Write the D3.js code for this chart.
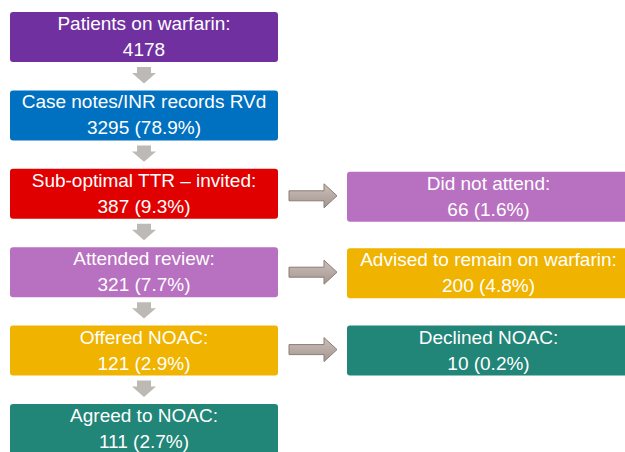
<!DOCTYPE html>
<html><head><meta charset="utf-8">
<script src="https://cdn.jsdelivr.net/npm/d3@7"></script>
<style>html,body{margin:0;padding:0;background:#fff;overflow:hidden}</style>
</head><body>
<script>
// ---- data ----
const mainLabels = ["Patients on warfarin:", "Case notes/INR records RVd", "Sub-optimal TTR \u2013 invited:", "Attended review:", "Offered NOAC:", "Agreed to NOAC:"];
const mainCounts = [4178, 3295, 387, 321, 121, 111];
const mainPercents = [null, 78.9, 9.3, 7.7, 2.9, 2.7];
const sideLabels = ["Did not attend:", "Advised to remain on warfarin:", "Declined NOAC:"];
const sideCounts = [66, 200, 10];
const sidePercents = [1.6, 4.8, 0.2];
const sideRows = [2, 3, 4];

// ---- styles ----
const mainColors = ["#7030A0", "#0070C0", "#E00000", "#B870C0", "#EFB300", "#218577"];
const sideColors = ["#B870C0", "#EFB300", "#218577"];

const W = 625, H = 452;
const svg = d3.select("body").append("svg").attr("width", W).attr("height", H);
const defs = svg.append("defs");
const grad = defs.append("linearGradient").attr("id", "ag").attr("x1", 0).attr("y1", 0).attr("x2", 0).attr("y2", 1);
grad.append("stop").attr("offset", "0%").attr("stop-color", "#CDBFBA");
grad.append("stop").attr("offset", "100%").attr("stop-color", "#A39590");

const y = d3.scaleLinear().domain([0, 5]).range([12, 404]);
const boxH = 50;
const xMain = d3.scaleLinear().domain([0, 1]).range([10, 278]);
const xSide = d3.scaleLinear().domain([0, 1]).range([347, 630]);
const fontFam = "'Liberation Sans', Arial, sans-serif";
const fs = 19;

function label(c, p) { return p == null ? String(c) : `${c} (${p.toFixed(1)}%)`; }

// main boxes
const main = svg.selectAll("g.main").data(mainLabels.map((l, i) => ({l, c: mainCounts[i], p: mainPercents[i], i})))
  .join("g").attr("class", "main");
main.append("rect")
  .attr("x", xMain(0)).attr("y", d => y(d.i)).attr("width", xMain(1) - xMain(0)).attr("height", boxH)
  .attr("rx", 3).attr("fill", d => mainColors[d.i]);
main.append("text").attr("x", (xMain(0) + xMain(1)) / 2).attr("y", d => y(d.i) + 18)
  .attr("text-anchor", "middle").attr("fill", "#fff").attr("font-family", fontFam).attr("font-size", fs)
  .text(d => d.l);
main.append("text").attr("x", (xMain(0) + xMain(1)) / 2).attr("y", d => y(d.i) + 44)
  .attr("text-anchor", "middle").attr("fill", "#fff").attr("font-family", fontFam).attr("font-size", fs)
  .text(d => label(d.c, d.p));

// down arrows
const cx = 144;
d3.range(5).forEach(i => {
  const t = y(i) + boxH + 5, b = y(i + 1) - 7;
  const hs = t + 6;
  svg.append("path").attr("fill", "#BDB9B4")
    .attr("d", `M${cx-7},${t} L${cx+7},${t} L${cx+7},${hs} L${cx+12},${hs} L${cx},${b} L${cx-12},${hs} L${cx-7},${hs} Z`);
});

// side boxes
const side = svg.selectAll("g.side").data(sideLabels.map((l, i) => ({l, c: sideCounts[i], p: sidePercents[i], i, r: sideRows[i]})))
  .join("g").attr("class", "side");
const sideOff = [3, 1, 0];
side.append("rect")
  .attr("x", xSide(0)).attr("y", d => y(d.r) + sideOff[d.i]).attr("width", xSide(1) - xSide(0)).attr("height", boxH)
  .attr("rx", 3).attr("fill", d => sideColors[d.i]);
side.append("text").attr("x", (xSide(0) + xSide(1)) / 2).attr("y", d => y(d.r) + sideOff[d.i] + 18)
  .attr("text-anchor", "middle").attr("fill", "#fff").attr("font-family", fontFam).attr("font-size", fs)
  .text(d => d.l);
side.append("text").attr("x", (xSide(0) + xSide(1)) / 2).attr("y", d => y(d.r) + sideOff[d.i] + 44)
  .attr("text-anchor", "middle").attr("fill", "#fff").attr("font-family", fontFam).attr("font-size", fs)
  .text(d => label(d.c, d.p));

// right arrows
side.each(function(d) {
  const cy = y(d.r) + sideOff[d.i] + boxH / 2 - 1;
  const x0 = 289, xh = 324, x1 = 337;
  d3.select(this).append("path").attr("fill", "url(#ag)").attr("stroke", "#8C7C76").attr("stroke-width", 1)
    .attr("d", `M${x0},${cy-5} L${xh},${cy-5} L${xh},${cy-12} L${x1},${cy} L${xh},${cy+12} L${xh},${cy+5} L${x0},${cy+5} Z`);
});
</script>
</body></html>
